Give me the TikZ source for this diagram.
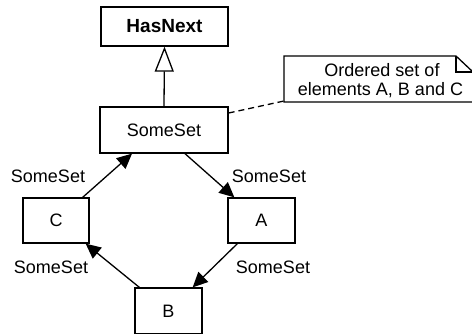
\documentclass[tikz,border=0pt]{standalone}
\usepackage{fontspec}
\setmainfont{Liberation Sans}
\usetikzlibrary{arrows.meta}
\begin{document}
\begin{tikzpicture}[x=1pt,y=-1pt,
  every node/.style={font=\fontsize{18}{21}\selectfont},
  box/.style={draw,line width=1.3pt,inner sep=0pt,anchor=center},
  lbl/.style={inner sep=0pt,anchor=center},
  assoc/.style={line width=1.3pt,-{Triangle[length=15pt,width=14pt]}},
  gen/.style={line width=1.3pt,-{Triangle[open,length=25pt,width=19pt,line width=1.3pt]}},
  notelink/.style={line width=1.3pt,dash pattern=on 6pt off 4pt},
  notebox/.style={line width=1.3pt}]
\useasboundingbox (0,0) rectangle (472,333);
\node[box,minimum width=127pt,minimum height=39pt,font=\fontsize{19}{22}\selectfont\bfseries] (hasnext) at (164.5,26.5) {HasNext};
\node[box,minimum width=128pt,minimum height=46pt] (someset) at (164,130) {SomeSet};
\node[box,minimum width=66pt,minimum height=45pt] (C) at (56,220.5) {C};
\node[box,minimum width=67pt,minimum height=45pt] (A) at (261.5,220.5) {A};
\node[box,minimum width=67pt,minimum height=46pt] (B) at (168.5,311) {B};
% note
\coordinate (nw) at (284,56);
\coordinate (nf) at (456,56);
\coordinate (nfc) at (456,72);
\coordinate (nfr) at (473,72);
\coordinate (nse) at (473,102);
\coordinate (nsw) at (284,102);
\draw[notebox] (nw) -- (nf) -- (nfr) -- (nse) -- (nsw) -- cycle;
\draw[notebox] (nf) -- (nfc) -- (nfr);
\node[lbl] (note1) at (382,70) {Ordered set of};
\node[lbl] (note2) at (380.5,90) {elements A, B and C};
\coordinate (linkend) at (284,101);
\draw[notelink] ([yshift=17pt]someset.east) -- (linkend);
% generalization
\draw[gen] (someset.north) -- (hasnext.south);
% associations
\draw[assoc] ([xshift=-7pt]C.north east) -- ([xshift=-32pt]someset.south);
\draw[assoc] ([xshift=21pt]someset.south) -- ([xshift=7pt]A.north west);
\draw[assoc] ([xshift=10pt]A.south west) -- ([xshift=-10pt]B.north east);
\draw[assoc] ([xshift=5pt]B.north west) -- ([xshift=-4pt]C.south east);
% labels
\node[lbl] (l1) at (48,176) {SomeSet};
\node[lbl] (l2) at (269,176) {SomeSet};
\node[lbl] (l3) at (51,267) {SomeSet};
\node[lbl] (l4) at (273,267) {SomeSet};
\end{tikzpicture}
\end{document}
